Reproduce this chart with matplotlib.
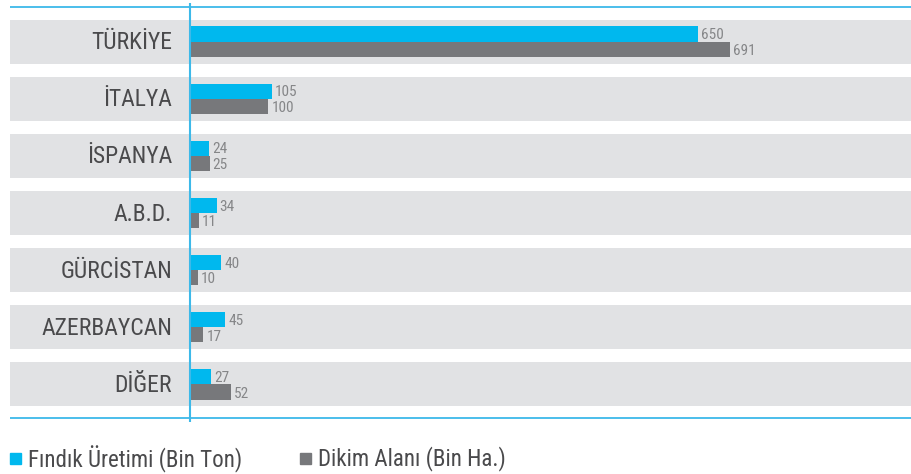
import matplotlib.pyplot as plt
from matplotlib.patches import Rectangle

# data
countries = ["TÜRKİYE", "İTALYA", "İSPANYA", "A.B.D.", "GÜRCİSTAN", "AZERBAYCAN", "DİĞER"]
uretim = [650, 105, 24, 34, 40, 45, 27]   # Fındık Üretimi (Bin Ton)
alan = [691, 100, 25, 11, 10, 17, 52]     # Dikim Alanı (Bin Ha.)

blue = "#00b8ee"
gray = "#77787b"
band = "#e1e2e4"
line_blue = "#3db9e9"
txt = "#4a4a4c"
val = "#858688"

plt.rcParams['font.family'] = ['Roboto Condensed', 'DejaVu Sans']

fig = plt.figure(figsize=(9.12, 4.74), dpi=100)
ax = fig.add_axes([10/912, 52/474, 902/912, 419/474])

px = 0.782  # pixels per unit
ax.set_xlim(-180/px, 722/px)
ax.set_ylim(6.658, -0.675)
ax.axis('off')

bh = 0.265
for i, c in enumerate(countries):
    ax.axhspan(i - 0.385, i + 0.385, color=band, lw=0, zorder=0)
    ax.barh(i - bh/2, uretim[i], height=bh, color=blue, zorder=2)
    ax.barh(i + bh/2, alan[i], height=bh, color=gray, zorder=2)
    ax.text(-23, i + 0.02, c, ha='right', va='center', fontsize=17, color=txt)
    ax.text(uretim[i] + 4, i - bh/2 + 0.02, str(uretim[i]), ha='left', va='center',
            fontsize=11, color=val, zorder=3)
    ax.text(alan[i] + 4, i + bh/2 + 0.03, str(alan[i]), ha='left', va='center',
            fontsize=11, color=val, zorder=3)

ax.axhline(-0.605, color=line_blue, lw=1.3, zorder=1)
ax.axhline(6.588, color=line_blue, lw=1.3, zorder=1)
ax.axvline(0, color=line_blue, lw=1.5, zorder=4)

# legend
fig.patches.append(Rectangle((10/912, 1 - 464/474), 11/912, 11/474, color=blue,
                             transform=fig.transFigure, figure=fig))
fig.text(28/912, 1 - 459/474, "Fındık Üretimi (Bin Ton)", ha='left', va='center',
         fontsize=16.6, color=txt)
fig.patches.append(Rectangle((300/912, 1 - 464/474), 11/912, 11/474, color=gray,
                             transform=fig.transFigure, figure=fig))
fig.text(318/912, 1 - 459/474, "Dikim Alanı (Bin Ha.)", ha='left', va='center',
         fontsize=16.6, color=txt)

fig.savefig('out.png', dpi=100)
